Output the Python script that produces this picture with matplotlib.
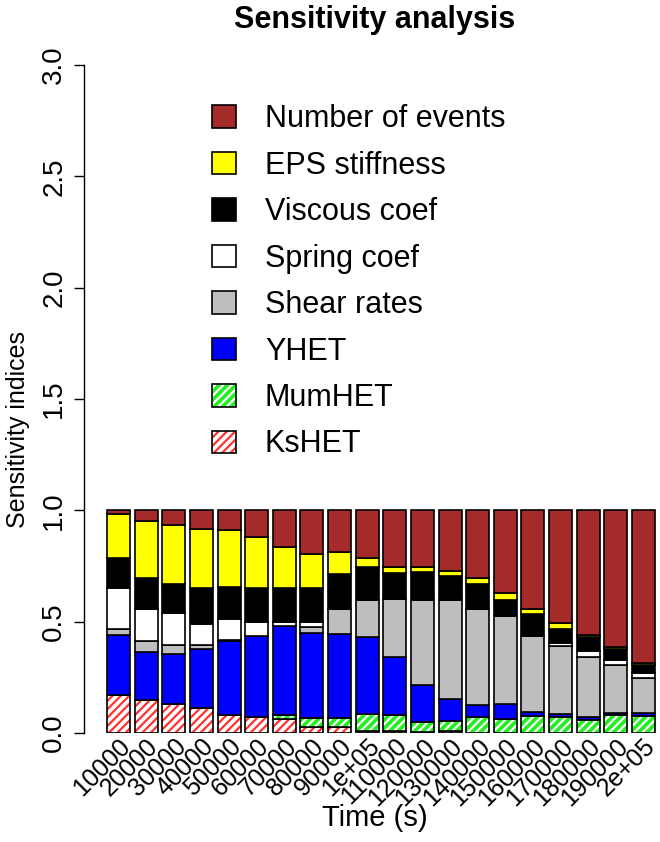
import matplotlib
matplotlib.use('Agg')
import matplotlib.pyplot as plt
from matplotlib.patches import Patch
from matplotlib.transforms import ScaledTranslation
import numpy as np

plt.rcParams['font.family'] = ['Liberation Sans', 'DejaVu Sans']
plt.rcParams['hatch.linewidth'] = 1.6

# data (bottom to top in each bar)
times = ['10000', '20000', '30000', '40000', '50000', '60000', '70000', '80000', '90000', '1e+05',
         '110000', '120000', '130000', '140000', '150000', '160000', '170000', '180000', '190000', '2e+05']
ks_het = [.170, .148, .130, .111, .080, .070, .065, .025, .025, .010,
          .010, .004, .008, .002, .002, .002, .002, .002, .002, .002]
mum_het = [0, 0, 0, 0, 0, 0, .015, .043, .043, .075,
           .070, .044, .044, .068, .063, .076, .068, .058, .077, .075]
y_het = [.268, .217, .224, .267, .334, .366, .401, .382, .376, .344,
         .262, .167, .100, .054, .065, .015, .015, .014, .011, .011]
shear = [.030, .049, .041, .017, .003, 0, 0, .027, .115, .167,
         .259, .381, .444, .431, .395, .342, .305, .268, .215, .157]
spring = [.182, .145, .142, .094, .093, .063, .018, .022, 0, 0,
          0, 0, 0, 0, 0, 0, .015, .027, .022, .023]
viscous = [.138, .137, .130, .160, .146, .150, .154, .154, .157, .150,
           .118, .127, .108, .113, .074, .099, .064, .060, .051, .037]
eps = [.194, .256, .266, .266, .257, .231, .183, .150, .097, .042,
       .027, .023, .024, .030, .030, .021, .023, .010, .009, .010]
events = [.018, .048, .067, .085, .090, .120, .164, .197, .187, .212,
          .254, .254, .272, .302, .371, .445, .508, .561, .613, .685]

series = [
    ('KsHET', ks_het, 'white', '#ff3030', '////'),
    ('MumHET', mum_het, '#22ee22', 'white', '////'),
    ('YHET', y_het, '#0000ff', None, None),
    ('Shear rates', shear, '#bebebe', None, None),
    ('Spring coef', spring, 'white', None, None),
    ('Viscous coef', viscous, 'black', None, None),
    ('EPS stiffness', eps, '#ffff00', None, None),
    ('Number of events', events, '#a52a2a', None, None),
]

W, H = 660, 842
fig = plt.figure(figsize=(W / 100, H / 100), dpi=100)
ax = fig.add_axes([84 / W, (H - 733) / H, (W - 84) / W, (733 - 65) / H])

x = 0.7 + 1.2 * np.arange(len(times))
bottom = np.zeros(len(times))
handles = []
for name, vals, fc, hc, hatch in series:
    vals = np.array(vals)
    if hatch:
        ax.bar(x, vals, 1.0, bottom=bottom, color=fc, edgecolor=hc, hatch=hatch, linewidth=0)
        ax.bar(x, vals, 1.0, bottom=bottom, fill=False, edgecolor='black', linewidth=1.2)
        h = (Patch(facecolor=fc, edgecolor=hc, hatch=hatch, linewidth=0),
             Patch(fill=False, edgecolor='black', linewidth=1.2))
    else:
        ax.bar(x, vals, 1.0, bottom=bottom, color=fc, edgecolor='black', linewidth=1.2)
        h = Patch(facecolor=fc, edgecolor='black', linewidth=1.2)
    handles.append((name, h))
    bottom += vals

px = 1.0 / 23.03  # data units per pixel
ax.set_xlim(0.2 - 23 * px, 24.0 + 5 * px)
ax.set_ylim(0, 3)
for s in ['top', 'right', 'bottom']:
    ax.spines[s].set_visible(False)
ax.spines['left'].set_bounds(0, 3)
ax.spines['left'].set_linewidth(1.0)
ax.set_yticks(np.arange(0, 3.01, 0.5))
ax.set_yticklabels(['%.1f' % v for v in np.arange(0, 3.01, 0.5)], rotation=90, va='center')
ax.tick_params(axis='y', length=7, width=1.0, pad=5, labelsize=20)

ax.set_xticks(x)
ax.set_xticklabels(times, rotation=45, ha='right', va='top', rotation_mode='anchor', fontsize=18)
ax.tick_params(axis='x', length=0, pad=0)
off = ScaledTranslation(0 / 100, -1 / 100, fig.dpi_scale_trans)
for lab in ax.get_xticklabels():
    lab.set_transform(lab.get_transform() + off)

leg = ax.legend([h for _, h in handles[::-1]], [n for n, _ in handles[::-1]],
                loc='upper left', bbox_to_anchor=(212 / W, 1 - 104 / H), bbox_transform=fig.transFigure,
                frameon=False, fontsize=22, handlelength=0.78, handleheight=0.75,
                handletextpad=0.95, labelspacing=0.54, borderpad=0, borderaxespad=0)

fig.text(375 / W, 1 - 20 / H, 'Sensitivity analysis', ha='center', va='center', fontsize=22, fontweight='bold')
fig.text(375 / W, 1 - 818 / H, 'Time (s)', ha='center', va='center', fontsize=21)
fig.text(18 / W, 1 - 430 / H, 'Sensitivity indices', ha='center', va='center', rotation=90, fontsize=18)

fig.savefig('out.png', dpi=100)
